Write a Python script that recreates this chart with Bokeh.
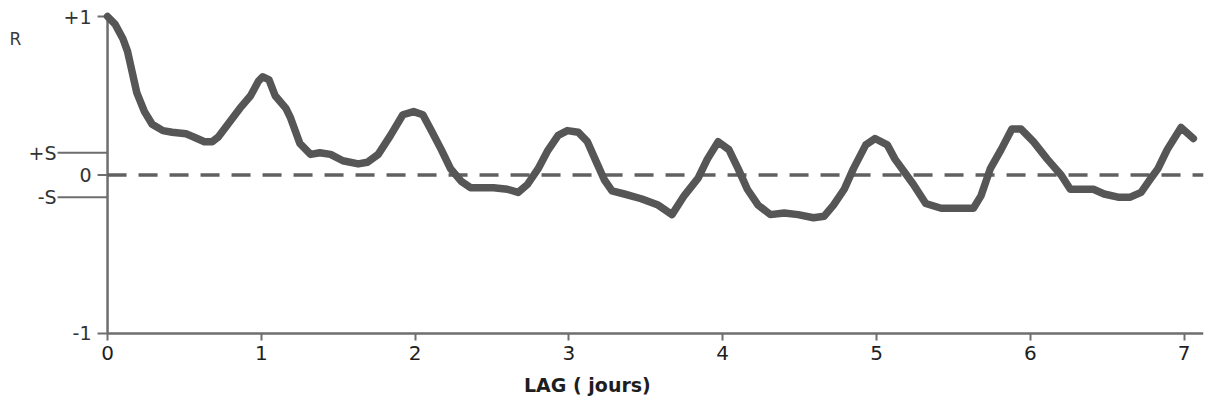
import math
from bokeh.plotting import figure
from bokeh.models import FixedTicker, Range1d
from bokeh.core.properties import value
from bokeh.embed import file_html
from bokeh.resources import INLINE

# ---- data ----
lag = [0.00, 0.05, 0.10, 0.13, 0.16, 0.19, 0.24, 0.29, 0.36, 0.42, 0.51, 0.56, 0.63, 0.68,
       0.72, 0.79, 0.86, 0.93, 0.98, 1.01, 1.05, 1.09, 1.16, 1.19, 1.25, 1.32, 1.38, 1.45,
       1.53, 1.63, 1.69, 1.76, 1.84, 1.92, 1.99, 2.05, 2.10, 2.17, 2.23, 2.30, 2.36, 2.43,
       2.51, 2.60, 2.67, 2.73, 2.80, 2.86, 2.93, 2.99, 3.06, 3.12, 3.17, 3.23, 3.28, 3.36,
       3.47, 3.58, 3.67, 3.75, 3.84, 3.90, 3.97, 4.04, 4.10, 4.16, 4.23, 4.31, 4.40, 4.49,
       4.59, 4.66, 4.72, 4.79, 4.85, 4.93, 4.99, 5.07, 5.12, 5.18, 5.24, 5.32, 5.42, 5.53,
       5.63, 5.68, 5.74, 5.81, 5.88, 5.94, 6.02, 6.11, 6.20, 6.26, 6.33, 6.41, 6.48, 6.57,
       6.65, 6.72, 6.77, 6.83, 6.89, 6.98, 7.06]
r = [1.00, 0.95, 0.86, 0.78, 0.65, 0.52, 0.40, 0.32, 0.28, 0.27, 0.26, 0.24, 0.21, 0.21,
     0.24, 0.33, 0.42, 0.50, 0.59, 0.62, 0.60, 0.50, 0.42, 0.36, 0.20, 0.13, 0.14, 0.13,
     0.09, 0.07, 0.08, 0.13, 0.25, 0.38, 0.40, 0.38, 0.29, 0.16, 0.04, -0.04, -0.08, -0.08,
     -0.08, -0.09, -0.11, -0.06, 0.04, 0.15, 0.25, 0.28, 0.27, 0.21, 0.10, -0.03, -0.10, -0.12,
     -0.15, -0.19, -0.25, -0.13, -0.02, 0.10, 0.21, 0.16, 0.04, -0.09, -0.19, -0.25, -0.24, -0.25,
     -0.27, -0.26, -0.19, -0.09, 0.04, 0.19, 0.23, 0.19, 0.10, 0.02, -0.06, -0.18, -0.21, -0.21,
     -0.21, -0.13, 0.04, 0.16, 0.29, 0.29, 0.21, 0.10, 0.00, -0.09, -0.09, -0.09, -0.12, -0.14,
     -0.14, -0.11, -0.04, 0.04, 0.16, 0.30, 0.23]
S = 0.14
x_ticks = [0, 1, 2, 3, 4, 5, 6, 7]
x_tick_labels = ["0", "1", "2", "3", "4", "5", "6", "7"]
y_ticks = [1, 0, -1]
y_tick_labels = ["+1", "0", "-1"]
s_levels = [S, -S]
s_labels = ["+S", "-S"]
x_title = "LAG ( jours)"
y_title = "R"
X_TITLE_AT = (3.12, -1.325)
R_TITLE_AT = 0.86
X_MIN, X_MAX = -0.696, 7.126
Y_MIN, Y_MAX = -1.423, 1.101
X_AXIS_AT = -1.0

AX = "#6e6e6e"
FONT = "DejaVu Sans"

p = figure(width=1204, height=400, output_backend="svg", toolbar_location=None,
           x_range=Range1d(X_MIN, X_MAX), y_range=Range1d(Y_MIN, Y_MAX),
           min_border_left=0, min_border_right=1, min_border_top=0, min_border_bottom=0)
p.outline_line_color = None
p.grid.visible = False
p.yaxis.visible = False
p.background_fill_color = "white"
p.border_fill_color = "white"

# bottom axis (real Bokeh axis, fixed at R = -1)
xa = p.xaxis[0]
xa.fixed_location = X_AXIS_AT
xa.ticker = FixedTicker(ticks=x_ticks)
xa.major_label_overrides = {t: l for t, l in zip(x_ticks, x_tick_labels)}
xa.bounds = (0, X_MAX)
xa.axis_line_color = AX
xa.axis_line_width = 2.5
xa.major_tick_line_color = AX
xa.major_tick_line_width = 2
xa.major_tick_in = 0
xa.major_tick_out = 7
xa.minor_tick_out = 0
xa.minor_tick_in = 0
xa.major_label_standoff = 6
xa.major_label_text_font = FONT
xa.major_label_text_font_size = "20px"
xa.major_label_text_color = "#1e1e1e"

# x title (centred where the reference puts it)
p.text(x=[X_TITLE_AT[0]], y=[X_TITLE_AT[1]], text=[x_title], text_align="center",
       text_baseline="middle", text_font=value(FONT), text_font_size="19px",
       text_font_style="bold", text_color="#1e1e1e")

# left axis drawn at x = 0
p.segment(x0=[0], y0=[X_AXIS_AT], x1=[0], y1=[1], line_color=AX, line_width=2.5)
p.ray(x=[0] * len(y_ticks), y=y_ticks, length=10, angle=math.pi, length_units="screen",
      line_color=AX, line_width=2)
p.ray(x=[0] * len(s_levels), y=s_levels, length=50, angle=math.pi, length_units="screen",
      line_color=AX, line_width=2)
p.text(x=[0] * len(y_ticks), y=y_ticks, text=y_tick_labels, x_offset=-16,
       text_align="right", text_baseline="middle", text_font=value(FONT),
       text_font_size="19px", text_color="#333333")
p.text(x=[0] * len(s_levels), y=s_levels, text=s_labels, x_offset=-51,
       text_align="right", text_baseline="middle", text_font=value(FONT),
       text_font_size="19px", text_color="#333333")
p.text(x=[0], y=[R_TITLE_AT], text=[y_title], x_offset=-98,
       text_align="left", text_baseline="middle", text_font=value(FONT),
       text_font_size="17px", text_color="#3a3a3a")

# dashed zero line
p.segment(x0=[0], y0=[0], x1=[X_MAX], y1=[0], line_color="#606060",
          line_width=3.5, line_dash="19 12")

# correlogram
p.line(lag, r, line_width=7.5, line_color="#565656", line_join="round", line_cap="round")

open("out.html", "w").write(file_html(p, INLINE))
